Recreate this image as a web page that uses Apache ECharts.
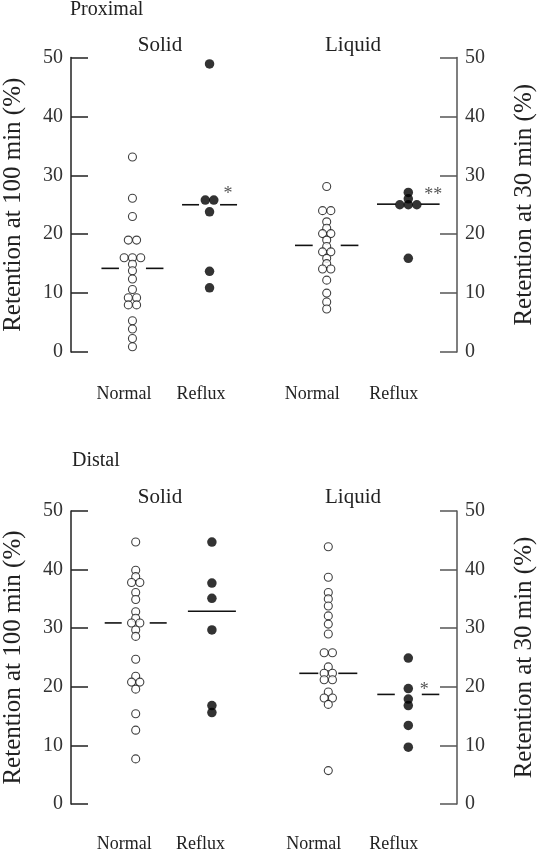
<!DOCTYPE html>
<html><head><meta charset="utf-8">
<script src="https://cdn.jsdelivr.net/npm/echarts@6/dist/echarts.min.js"></script>
<style>html,body{margin:0;padding:0;background:#fff}#c{width:538px;height:853px}</style>
</head><body><div id="c"></div>
<script>
// ---------- data ----------
const categories = ['Normal', 'Reflux'];
const yTickValues = [0, 10, 20, 30, 40, 50];

const proxSolidNormal = [33.1, 26.1, 23.0, 19.0, 19.0, 16.0, 16.0, 16.0, 14.9, 13.8, 12.4, 10.6, 9.2, 9.2, 8.0, 8.0, 5.3, 3.9, 2.3, 0.9];
const proxSolidReflux = [48.9, 25.8, 25.8, 23.8, 13.7, 10.9];
const proxSolidMedian = [14.2, 25.0];
const proxSolidSig = ['', '*'];

const proxLiquidNormal = [28.1, 24.0, 24.0, 22.1, 21.0, 20.1, 20.1, 19.0, 17.9, 17.0, 17.0, 15.9, 15.0, 14.1, 14.1, 12.2, 10.0, 8.5, 7.3];
const proxLiquidReflux = [27.1, 26.0, 25.0, 25.0, 25.0, 15.9];
const proxLiquidMedian = [18.1, 25.1];
const proxLiquidSig = ['', '**'];

const distSolidNormal = [44.7, 39.9, 38.8, 37.8, 37.8, 36.1, 34.9, 32.8, 31.7, 30.9, 30.9, 29.7, 28.6, 24.7, 21.8, 20.8, 20.8, 19.6, 15.4, 12.6, 7.7];
const distSolidReflux = [44.7, 37.7, 35.1, 29.7, 16.8, 15.6];
const distSolidMedian = [30.9, 32.9];
const distSolidSig = ['', ''];

const distLiquidNormal = [43.9, 38.7, 36.1, 35.0, 33.8, 32.1, 30.7, 29.0, 25.8, 25.8, 23.4, 22.3, 22.3, 21.2, 21.2, 19.1, 18.1, 18.1, 17.0, 5.7];
const distLiquidReflux = [24.9, 19.7, 17.9, 16.8, 13.4, 9.7];
const distLiquidMedian = [22.3, 18.7];
const distLiquidSig = ['', '*'];

// ---------- layout / style ----------
const FONT = "'Liberation Serif','Times New Roman',serif";
const panels = [
  {top: 57.5, height: 294.5, left: 92.9, width: 155.2, side: 'left', offset: 22.9, nameGap: 45,
   normal: proxSolidNormal, reflux: proxSolidReflux, median: proxSolidMedian, sig: proxSolidSig,
   seg: [[31, 13.5], [27.5, 10.5]], sigOff: [[0, 0], [18.5, -10]], labelPad: 17, labelMargin: 33,
   name: 'Retention at 100 min (%)'},
  {top: 57.5, height: 294.5, left: 285.9, width: 163.2, side: 'right', offset: 7.9, nameGap: 55,
   normal: proxLiquidNormal, reflux: proxLiquidReflux, median: proxLiquidMedian, sig: proxLiquidSig,
   seg: [[31.7, 14], [31.3, 12.5]], sigOff: [[0, 0], [25, -9]], labelPad: 29, labelMargin: 33,
   name: 'Retention at 30 min (%)'},
  {top: 511, height: 293.5, left: 96.6, width: 153.4, side: 'left', offset: 26.6, nameGap: 45,
   normal: distSolidNormal, reflux: distSolidReflux, median: distSolidMedian, sig: distSolidSig,
   seg: [[31, 14], [24, 0]], sigOff: [[0, 0], [0, 0]], labelPad: 23, labelMargin: 31,
   name: 'Retention at 100 min (%)'},
  {top: 511, height: 293.5, left: 288.3, width: 160, side: 'right', offset: 8.7, nameGap: 55,
   normal: distLiquidNormal, reflux: distLiquidReflux, median: distLiquidMedian, sig: distLiquidSig,
   seg: [[29, 10], [31, 13.5]], sigOff: [[0, 0], [16, -4]], labelPad: 29, labelMargin: 31,
   name: 'Retention at 30 min (%)'}
];

function swarm(values, cat, d) {
  // points sharing the same value are spread symmetrically side by side
  const counts = {}, seen = {};
  values.forEach(v => counts[v] = (counts[v] || 0) + 1);
  return values.map(v => {
    const n = counts[v]; const i = seen[v] = (seen[v] === undefined ? 0 : seen[v] + 1);
    return {value: [cat, v], symbolOffset: [(i - (n - 1) / 2) * d, 0]};
  });
}

const grid = [], xAxis = [], yAxis = [], series = [];
panels.forEach((p, k) => {
  grid.push({left: p.left, width: p.width, top: p.top, height: p.height});
  xAxis.push({
    type: 'category', gridIndex: k, data: categories,
    axisLine: {show: false}, axisTick: {show: false}, splitLine: {show: false},
    axisLabel: {fontFamily: FONT, fontSize: 18, color: '#222', margin: p.labelMargin,
                padding: [0, p.labelPad, 0, 0], interval: 0}
  });
  yAxis.push({
    type: 'value', gridIndex: k, position: p.side, offset: p.offset,
    min: yTickValues[0], max: yTickValues[yTickValues.length - 1], interval: 10,
    splitLine: {show: false},
    axisLine: {show: true, lineStyle: {color: p.side === 'left' ? '#222' : '#555', width: 1.5}},
    axisTick: {show: true, inside: true, length: 17, lineStyle: {color: p.side === 'left' ? '#222' : '#555', width: 1.5}},
    axisLabel: {fontFamily: FONT, fontSize: 20, color: '#333', margin: 8},
    name: p.name, nameLocation: 'middle', nameRotate: 90, nameGap: p.nameGap,
    nameTextStyle: {fontFamily: FONT, fontSize: 25, color: '#222'}
  });
  // median lines + significance marks
  series.push({
    type: 'custom', xAxisIndex: k, yAxisIndex: k, z: 1, silent: true,
    data: p.median.map((m, i) => [i, m]),
    renderItem: function (params, api) {
      const c = api.coord([api.value(0), api.value(1)]);
      const s = p.seg[params.dataIndex];
      const ls = {stroke: '#111', lineWidth: 1.6};
      const children = [];
      if (s[1] > 0) {
        children.push({type: 'line', shape: {x1: c[0] - s[0], y1: c[1], x2: c[0] - s[1], y2: c[1]}, style: ls});
        children.push({type: 'line', shape: {x1: c[0] + s[1], y1: c[1], x2: c[0] + s[0], y2: c[1]}, style: ls});
      } else {
        children.push({type: 'line', shape: {x1: c[0] - s[0], y1: c[1], x2: c[0] + s[0], y2: c[1]}, style: ls});
      }
      const t = p.sig[params.dataIndex];
      if (t) {
        const o = p.sigOff[params.dataIndex];
        children.push({type: 'text', x: c[0] + o[0], y: c[1] + o[1],
          style: {text: t, font: '18px ' + FONT, fill: '#555', align: 'center', verticalAlign: 'middle'}});
      }
      return {type: 'group', children: children};
    }
  });
  series.push({
    type: 'scatter', xAxisIndex: k, yAxisIndex: k, z: 3, symbol: 'circle', symbolSize: 8,
    itemStyle: {color: '#fff', borderColor: '#111', borderWidth: 1.1},
    data: swarm(p.normal, 0, 8.3)
  });
  series.push({
    type: 'scatter', xAxisIndex: k, yAxisIndex: k, z: 3, symbol: 'circle', symbolSize: 9.5,
    itemStyle: {color: '#000'},
    data: swarm(p.reflux, 1, 8.5)
  });
});

function txt(x, y, text, size, align) {
  return {type: 'text', x: x, y: y, style: {text: text, font: size + 'px ' + FONT, fill: '#222',
          align: align || 'center', verticalAlign: 'middle'}};
}

const chart = echarts.init(document.getElementById('c'));
chart.setOption({
  animation: false,
  backgroundColor: '#fff',
  grid: grid, xAxis: xAxis, yAxis: yAxis, series: series,
  graphic: [
    txt(70, 10, 'Proximal', 20, 'left'),
    txt(160, 45, 'Solid', 21), txt(353, 45, 'Liquid', 21),
    txt(72, 461, 'Distal', 20, 'left'),
    txt(160, 497, 'Solid', 21), txt(353, 497, 'Liquid', 21)
  ]
});
</script>
</body></html>
